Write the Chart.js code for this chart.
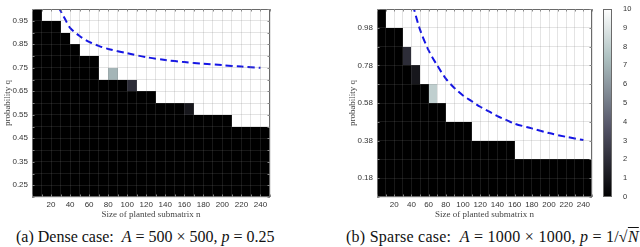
<!DOCTYPE html>
<html><head><meta charset="utf-8">
<script src="https://cdn.jsdelivr.net/npm/chart.js@4.4.0/dist/chart.umd.min.js"></script>
<style>
html,body{margin:0;padding:0;background:#fff;width:640px;height:247px;overflow:hidden}
.box{position:absolute}
.cap{position:absolute;font-family:"Liberation Serif","DejaVu Serif",serif;font-size:16px;line-height:18px;color:#111;white-space:nowrap}
.ov{text-decoration:overline}
</style></head><body>
<div class="box" style="left:0;top:0;width:300px;height:222px"><canvas id="c1"></canvas></div>
<div class="box" style="left:345px;top:0;width:255px;height:222px"><canvas id="c2"></canvas></div>
<div class="box" style="left:596px;top:0;width:44px;height:222px"><canvas id="c3"></canvas></div>
<div class="cap" style="left:16px;top:228px">(a) Dense case: &nbsp;<i>A</i> = 500 × 500, <i>p</i> = 0.25</div>
<div class="cap" style="left:346px;top:228px;letter-spacing:0.25px">(b) Sparse case: &nbsp;<i>A</i> = 1000 × 1000, <i>p</i> = 1/√<span class="ov"><i>N</i></span></div>
<script>
// ---------- data ----------
// column start values of planted submatrix size n (each column is 10 wide)
const colStarts = [0,10,20,30,40,50,60,70,80,90,100,110,120,130,140,150,160,170,180,190,200,210,220,230,240];
const colWidth = 10;
const xTickLabels = [20,40,60,80,100,120,140,160,180,200,220,240];

// dense case rows (bottom edges of probability q), 0.05 high
const denseRowStarts = [0.20,0.25,0.30,0.35,0.40,0.45,0.50,0.55,0.60,0.65,0.70,0.75,0.80,0.85,0.90,0.95];
const denseRowHeight = 0.05;
const denseYTicks = [0.25,0.35,0.45,0.55,0.65,0.75,0.85,0.95];
// top of the black (0 successes) region per column
const denseBlackTop = [1.00,0.95,0.95,0.90,0.85,0.80,0.80,0.70,0.70,0.70,0.65,0.65,0.65,0.60,0.60,0.60,0.55,0.55,0.55,0.55,0.55,0.50,0.50,0.50,0.50];
// partial-success cells: column start n, row start q, value (0..10)
const denseMixN = [80, 100, 160];
const denseMixQ = [0.70, 0.65, 0.55];
const denseMixV = [7, 2, 1];
// dashed threshold curve
const denseCurveN = [28, 29, 35, 40, 50, 60, 70, 80, 100, 120, 140, 160, 180, 200, 220, 240];
const denseCurveQ = [1.01, 1.00, 0.955, 0.92, 0.885, 0.86, 0.843, 0.83, 0.812, 0.795, 0.783, 0.774, 0.767, 0.761, 0.755, 0.75];

// sparse case rows, 0.1 high
const sparseRowStarts = [0.08,0.18,0.28,0.38,0.48,0.58,0.68,0.78,0.88,0.98];
const sparseRowHeight = 0.1;
const sparseYTicks = [0.18,0.38,0.58,0.78,0.98];
const sparseBlackTop = [1.08,0.98,0.98,0.78,0.68,0.68,0.58,0.58,0.48,0.48,0.48,0.38,0.38,0.38,0.38,0.38,0.28,0.28,0.28,0.28,0.28,0.28,0.28,0.28,0.28];
const sparseMixN = [30, 40, 60];
const sparseMixQ = [0.78, 0.68, 0.58];
const sparseMixV = [2, 1, 8];
const sparseCurveN = [42, 43, 50, 60, 70, 80, 90, 100, 110, 120, 130, 140, 150, 160, 180, 200, 220, 240];
const sparseCurveQ = [1.10, 1.08, 0.97, 0.86, 0.78, 0.71, 0.66, 0.62, 0.59, 0.56, 0.535, 0.51, 0.49, 0.47, 0.445, 0.42, 0.40, 0.383];

// colorbar
const cbarMin = 0, cbarMax = 10;
const cbarTicks = [0,1,2,3,4,5,6,7,8,9,10];

// ---------- helpers ----------
function bone(t){
  t = Math.max(0, Math.min(1, t));
  const hr = Math.min(1, t/0.375);
  const hg = Math.min(1, Math.max(0, (t-0.375)/0.375));
  const hb = Math.max(0, (t-0.75)/0.25);
  let r = (7*t+hb)/8, g = (7*t+hg)/8, b = (7*t+hr)/8;
  const L = 0.3*r + 0.59*g + 0.11*b, s = 0.6;
  r = L + s*(r-L); g = L + s*(g-L); b = L + s*(b-L);
  const c = v => Math.round(Math.max(0, Math.min(1, v))*255);
  return 'rgb(' + c(r) + ',' + c(g) + ',' + c(b) + ')';
}
function buildCells(rowStarts, rowH, blackTop, mixN, mixQ, mixV){
  const cells = [];
  colStarts.forEach((n, ci) => {
    rowStarts.forEach(q => {
      let v = (q + 1e-6 < blackTop[ci]) ? 0 : 10;
      for (let k = 0; k < mixN.length; k++){
        if (Math.abs(mixN[k]-n) < 1e-6 && Math.abs(mixQ[k]-q) < 1e-6) v = mixV[k];
      }
      cells.push({n0:n, n1:n+colWidth, q0:q, q1:q+rowH, v:v});
    });
  });
  return cells;
}
function heatPlugin(cells){
  return {
    id:'heat',
    beforeDatasetsDraw(chart){
      const {ctx, scales:{x, y}} = chart;
      ctx.save();
      cells.forEach(c => {
        if (c.v >= 10) return;
        const x0 = Math.round(x.getPixelForValue(c.n0));
        const x1 = Math.round(x.getPixelForValue(c.n1));
        const y0 = Math.round(y.getPixelForValue(c.q1));
        const y1 = Math.round(y.getPixelForValue(c.q0));
        ctx.fillStyle = bone(c.v/10);
        ctx.fillRect(x0, y0, x1-x0, y1-y0);
      });
      ctx.restore();
    }
  };
}
const framePlugin = {
  id:'frame',
  afterDraw(chart){
    const {ctx, chartArea:a, scales:{x, y}} = chart;
    ctx.save();
    ctx.strokeStyle = '#6a6a6a';
    ctx.lineWidth = 1;
    ctx.strokeRect(Math.round(a.left)+0.5, Math.round(a.top)+0.5, Math.round(a.right-a.left)-1, Math.round(a.bottom-a.top)-1);
    ctx.strokeStyle = '#888';
    ctx.beginPath();
    x.ticks.forEach(t => {
      const px = Math.round(x.getPixelForValue(t.value)) + 0.5;
      ctx.moveTo(px, a.top); ctx.lineTo(px, a.top+2.5);
      ctx.moveTo(px, a.bottom); ctx.lineTo(px, a.bottom-2.5);
    });
    y.ticks.forEach(t => {
      const py = Math.round(y.getPixelForValue(t.value)) + 0.5;
      ctx.moveTo(a.right, py); ctx.lineTo(a.right-2.5, py);
      ctx.moveTo(a.left, py); ctx.lineTo(a.left+2.5, py);
    });
    ctx.stroke();
    ctx.restore();
  }
};
const tickFont = {family:'"Liberation Sans", Arial, Helvetica, sans-serif', size:8};
const titleFont = {family:'"Liberation Serif", "DejaVu Serif", serif', size:9};
const gridColor = 'rgba(120,120,120,0.2)';
Chart.defaults.color = '#333';

function heatChart(id, cells, rowStarts, rowH, yTicks, curveN, curveQ, yAxisW){
  const yMin = rowStarts[0], yMax = rowStarts[rowStarts.length-1] + rowH;
  const yEdges = rowStarts.concat([yMax]);
  const xEdges = colStarts.concat([colStarts[colStarts.length-1] + colWidth]);
  return new Chart(document.getElementById(id), {
    type:'scatter',
    data:{datasets:[{
      data: curveN.map((n,i) => ({x:n, y:curveQ[i]})),
      showLine:true, pointRadius:0, borderColor:'#1414e6', borderWidth:2,
      borderDash:[7,4], tension:0.3, fill:false
    }]},
    options:{
      animation:false, responsive:true, maintainAspectRatio:false, devicePixelRatio:1,
      layout:{padding:{top:9, right:id==='c1'?30:8, left:0, bottom:0}},
      plugins:{legend:{display:false}, tooltip:{enabled:false}},
      scales:{
        x:{type:'linear', min:xEdges[0], max:xEdges[xEdges.length-1],
          afterBuildTicks: s => { s.ticks = xEdges.map(v => ({value:v})); },
          afterFit: s => { s.height = 25; },
          ticks:{autoSkip:false, maxRotation:0, minRotation:0, padding:3, font:tickFont,
            callback: v => xTickLabels.includes(Math.round(v)) ? String(Math.round(v)) : ''},
          grid:{color:gridColor, drawTicks:false, z:1},
          border:{display:false},
          title:{display:true, text:'Size of planted submatrix n', font:titleFont, color:'#444', padding:{top:0,bottom:2}}
        },
        y:{type:'linear', min:yMin, max:yMax,
          afterBuildTicks: s => { s.ticks = yEdges.map(v => ({value:v})); },
          afterFit: s => { s.width = yAxisW; },
          ticks:{autoSkip:false, padding:4, font:tickFont,
            callback: v => yTicks.some(t => Math.abs(t-v) < 1e-6) ? v.toFixed(2) : ''},
          grid:{color:gridColor, drawTicks:false, z:1},
          border:{display:false},
          title:{display:true, text:'probability q', font:titleFont, color:'#444', padding:{top:2,bottom:0}}
        }
      }
    },
    plugins:[heatPlugin(cells), framePlugin]
  });
}

heatChart('c1', buildCells(denseRowStarts, denseRowHeight, denseBlackTop, denseMixN, denseMixQ, denseMixV),
  denseRowStarts, denseRowHeight, denseYTicks, denseCurveN, denseCurveQ, 32);
heatChart('c2', buildCells(sparseRowStarts, sparseRowHeight, sparseBlackTop, sparseMixN, sparseMixQ, sparseMixV),
  sparseRowStarts, sparseRowHeight, sparseYTicks, sparseCurveN, sparseCurveQ, 32);

// colorbar
const cbarPlugin = {
  id:'cbar',
  beforeDatasetsDraw(chart){
    const {ctx, chartArea:a, scales:{y}} = chart;
    const yTop = y.getPixelForValue(cbarMax), yBot = y.getPixelForValue(cbarMin);
    const g = ctx.createLinearGradient(0, yBot, 0, yTop);
    for (let i = 0; i <= 20; i++) g.addColorStop(i/20, bone(i/20));
    ctx.save();
    ctx.fillStyle = g;
    ctx.fillRect(a.left, yTop, a.right-a.left, yBot-yTop);
    ctx.strokeStyle = '#6a6a6a';
    ctx.lineWidth = 1;
    ctx.strokeRect(Math.round(a.left)+0.5, Math.round(yTop)+0.5, Math.round(a.right-a.left)-1, Math.round(yBot-yTop)-1);
    ctx.restore();
  }
};
new Chart(document.getElementById('c3'), {
  type:'scatter',
  data:{datasets:[{data:[]}]},
  options:{
    animation:false, responsive:true, maintainAspectRatio:false, devicePixelRatio:1,
    layout:{padding:{top:9, left:7, right:0, bottom:25}},
    plugins:{legend:{display:false}, tooltip:{enabled:false}},
    scales:{
      x:{display:false, min:0, max:1},
      y:{position:'right', min:cbarMin, max:cbarMax,
        afterBuildTicks: s => { s.ticks = cbarTicks.map(v => ({value:v})); },
        afterFit: s => { s.width = 28; },
        ticks:{autoSkip:false, padding:3, font:{family:tickFont.family, size:7.5}},
        grid:{display:false}, border:{display:false}}
    }
  },
  plugins:[cbarPlugin]
});
</script>
</body></html>
